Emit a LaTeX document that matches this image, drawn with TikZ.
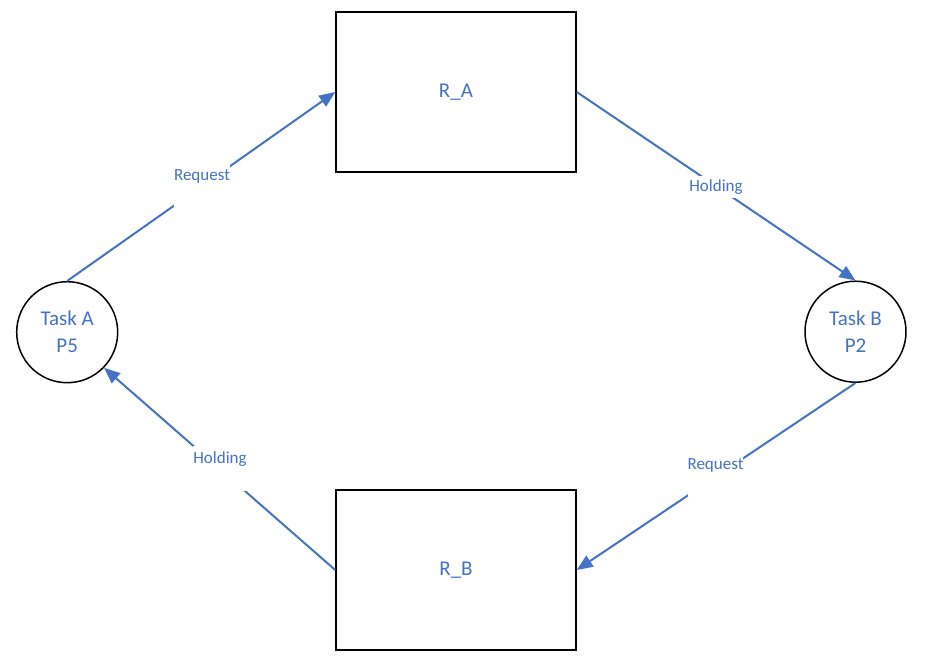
\documentclass[tikz,border=0pt]{standalone}
\usepackage{fontspec}
\setmainfont{Carlito}
\usetikzlibrary{arrows.meta}
\definecolor{lblue}{HTML}{4472C4}
\begin{document}
\begin{tikzpicture}[x=1pt,y=-1pt,
  resbox/.style={draw=black,line width=1.5pt,minimum width=240pt,minimum height=160pt,inner sep=0pt,text=lblue,font=\fontsize{21}{27}\selectfont},
  taskcirc/.style={draw=black,line width=1.5pt,circle,minimum size=101pt,inner sep=0pt,text=lblue,align=center,font=\fontsize{21}{27}\selectfont},
  conn/.style={draw=lblue,line width=2pt,-{Triangle[length=16pt,width=13pt]}},
  lbl/.style={fill=white,inner sep=0pt,anchor=base,text=lblue,font=\fontsize{17}{17}\selectfont}]
\useasboundingbox (0,0) rectangle (946,667);
\node[resbox] (ra) at (456,92) {R\_A};
\node[resbox] (rb) at (456,570) {R\_B};
\node[taskcirc] (ta) at (67.2,332.2) {Task A\\P5};
\node[taskcirc] (tb) at (855.5,331.7) {Task B\\P2};
\draw[conn] (ta.north) -- (ra.west);
\draw[conn] (ra.east) -- (tb.north);
\draw[conn] (tb.south) -- (rb.east);
\draw[conn] (rb.west) -- (ta.-44);
\node[lbl,text height=16pt,text depth=29pt] (l1) at (202,180.7) {Request};
\node[lbl,text height=15.5pt,text depth=6.5pt] (l2) at (716,191.7) {Holding};
\node[lbl,text height=15pt,text depth=29pt] (l3) at (715.5,469.3) {Request};
\node[lbl,text height=17.3pt,text depth=27.7pt] (l4) at (220,463.3) {Holding};
\end{tikzpicture}
\end{document}
